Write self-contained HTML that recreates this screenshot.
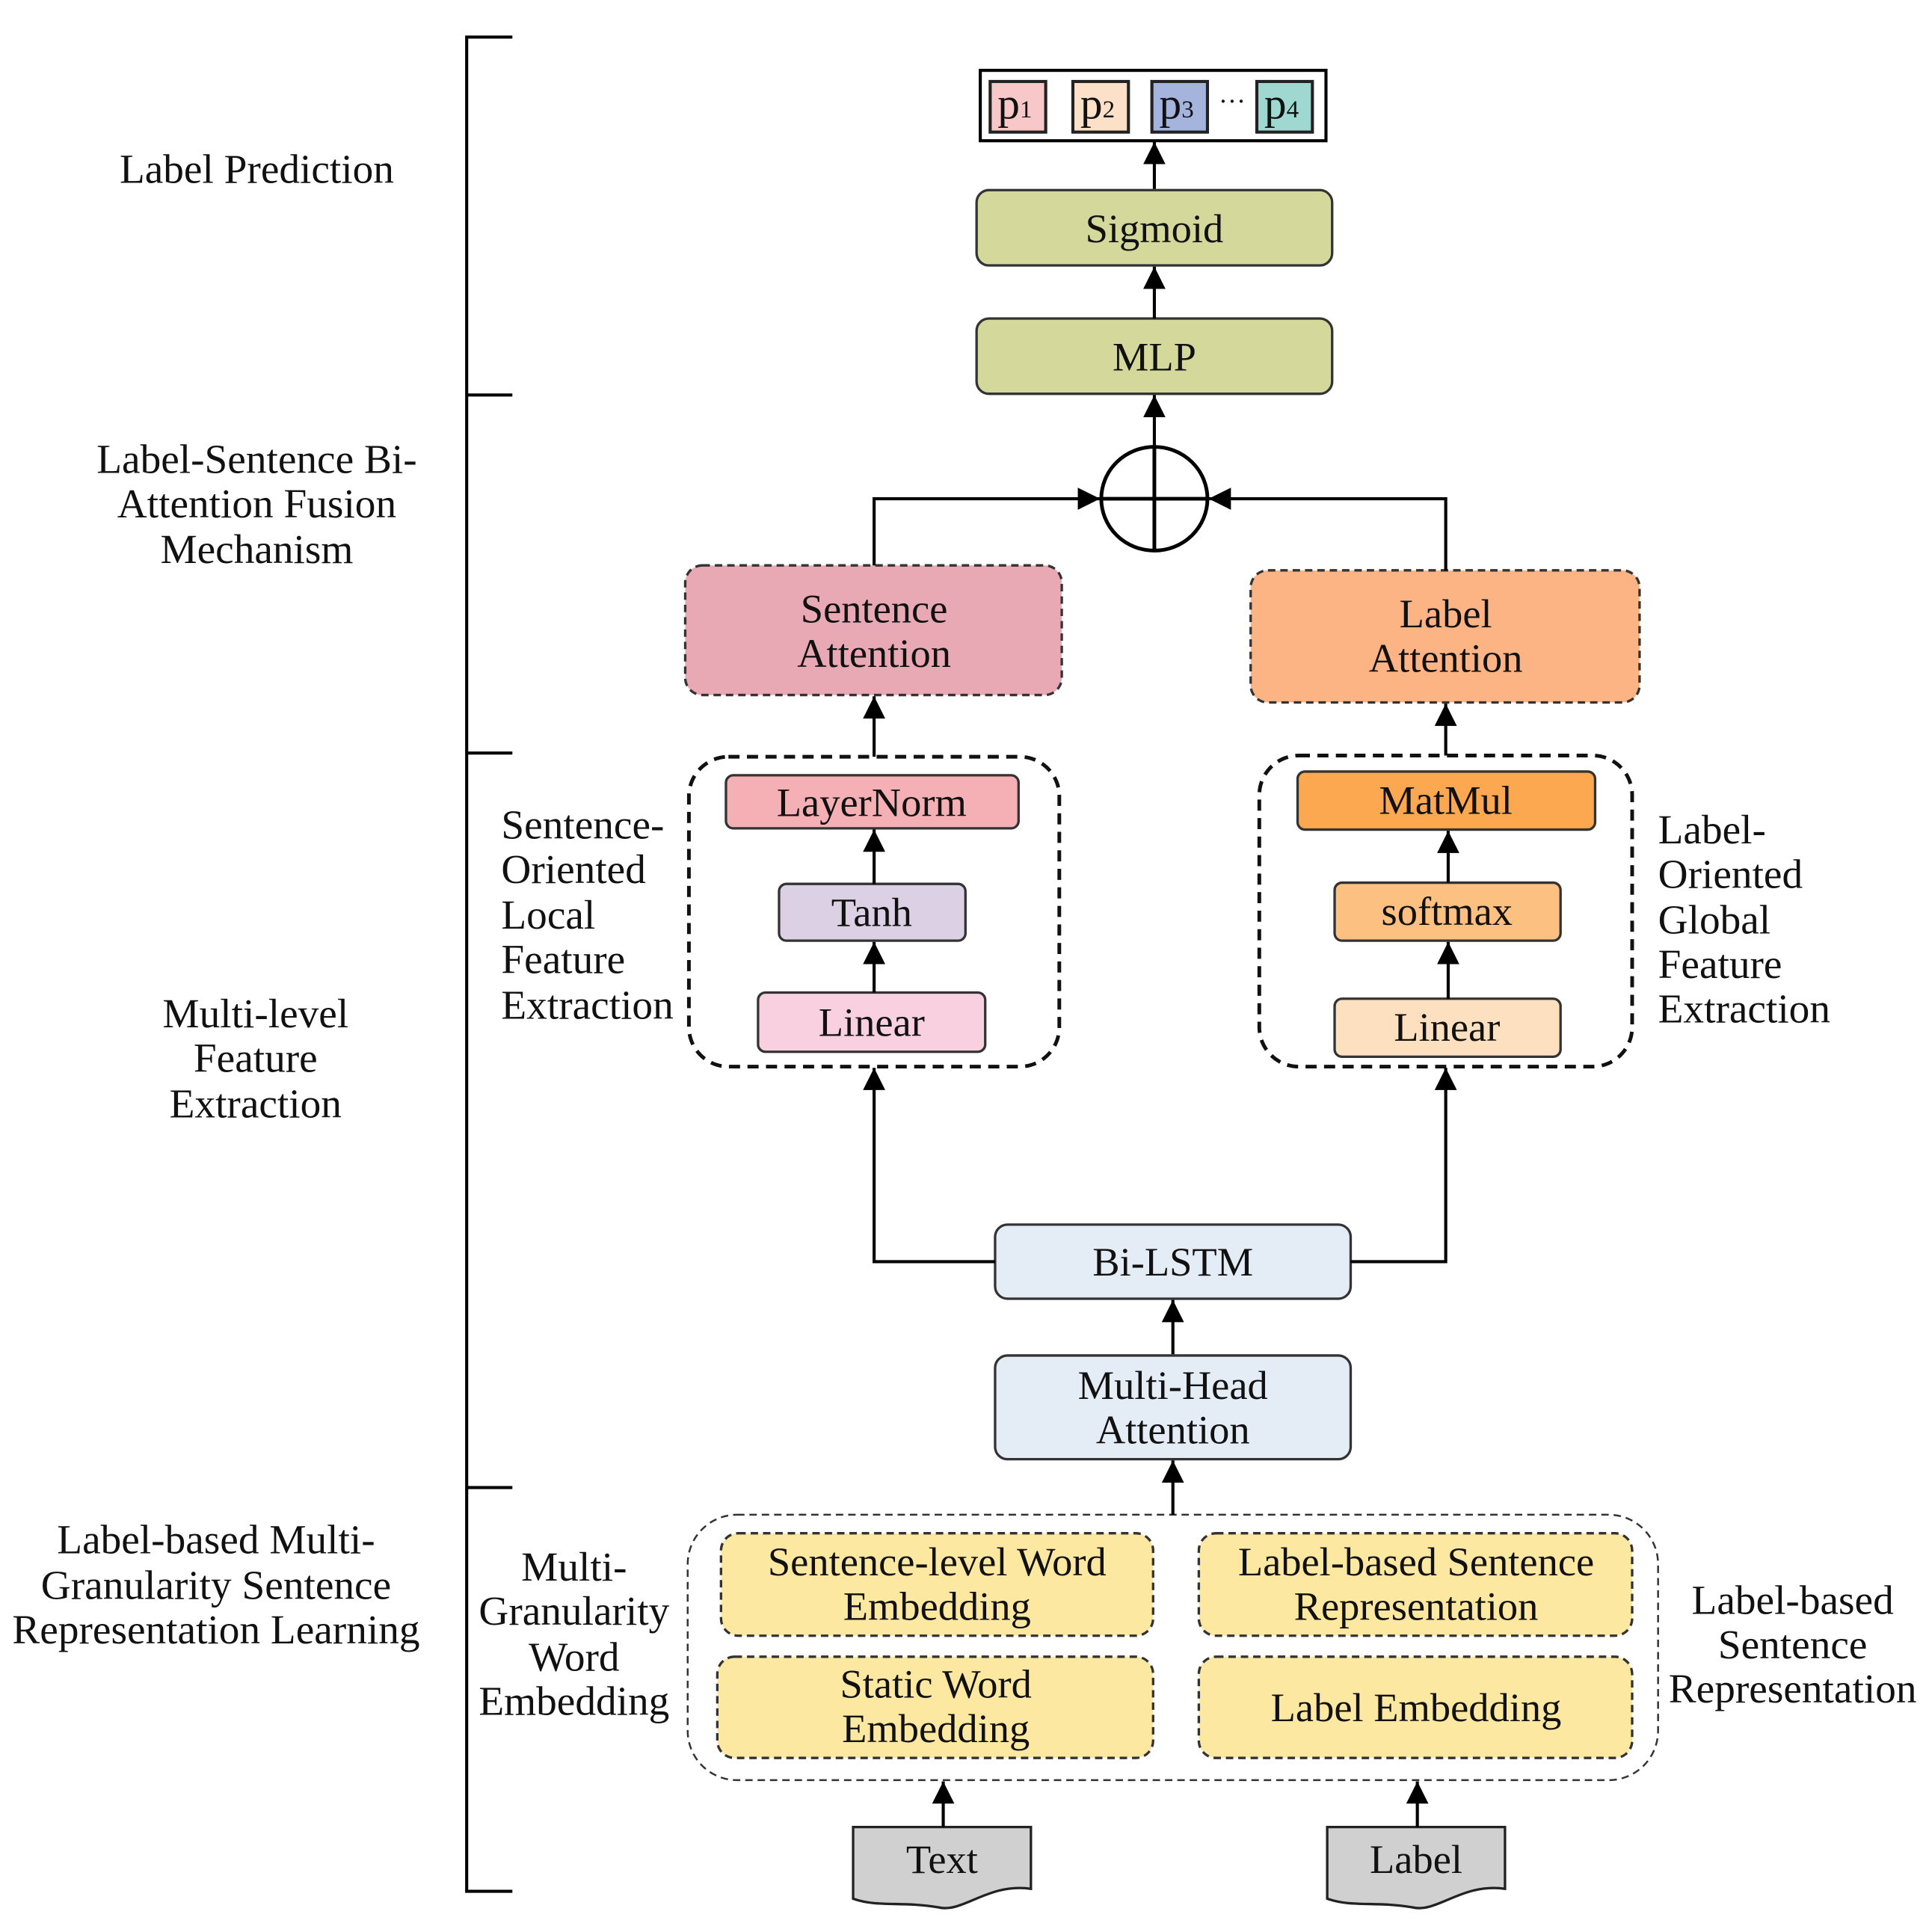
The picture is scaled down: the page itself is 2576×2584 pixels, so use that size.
<!DOCTYPE html>
<html><head><meta charset="utf-8"><style>html,body{margin:0;padding:0;background:#fff}svg{display:block}</style></head><body>
<svg width="2576" height="2584" viewBox="0 0 1560 1565" preserveAspectRatio="none" xmlns="http://www.w3.org/2000/svg" font-family="Liberation Serif, serif" fill="#111">
<defs>
<marker id="b" viewBox="0 0 10 10" markerWidth="18" markerHeight="18" refX="10" refY="5" orient="auto" markerUnits="userSpaceOnUse"><path d="M0,0 L10,5 L0,10 z" fill="#000"/></marker></defs>
<g stroke="#000" stroke-width="2.5" fill="none">
<path d="M415,30 H378 V1532 H415 M378,320 H415 M378,610 H415 M378,1205 H415"/>
</g>
<g font-size="33.5" text-anchor="middle" dominant-baseline="central">
<text x="208" y="137">Label Prediction</text>
<text x="208" y="372">Label-Sentence Bi-</text><text x="208" y="408">Attention Fusion</text><text x="208" y="445">Mechanism</text>
<text x="207" y="821">Multi-level</text><text x="207" y="857">Feature</text><text x="207" y="894">Extraction</text>
<text x="175" y="1247">Label-based Multi-</text><text x="175" y="1284">Granularity Sentence</text><text x="175" y="1320">Representation Learning</text>
<text x="465" y="1269">Multi-</text><text x="465" y="1305">Granularity</text><text x="465" y="1342">Word</text><text x="465" y="1378">Embedding</text>
<text x="1452" y="1296">Label-based</text><text x="1452" y="1332">Sentence</text><text x="1452" y="1368">Representation</text>
</g>
<g font-size="33.5" dominant-baseline="central">
<text x="406" y="668">Sentence-</text><text x="406" y="704">Oriented</text><text x="406" y="741">Local</text><text x="406" y="777">Feature</text><text x="406" y="814">Extraction</text>
<text x="1343" y="672">Label-</text><text x="1343" y="708">Oriented</text><text x="1343" y="745">Global</text><text x="1343" y="781">Feature</text><text x="1343" y="817">Extraction</text>
</g>
<rect x="794" y="57" width="280" height="57" fill="#fff" stroke="#000" stroke-width="2.5"/>
<g stroke="#222" stroke-width="2.5">
<rect x="802" y="66" width="45" height="41" fill="#f8c8c8"/>
<rect x="869" y="66" width="45" height="41" fill="#fde0c8"/>
<rect x="933" y="66" width="45" height="41" fill="#a4b4dc"/>
<rect x="1018" y="66" width="45" height="41" fill="#9ed8d0"/>
</g>
<g font-size="36" dominant-baseline="central" text-anchor="middle">
<text x="822" y="84">p<tspan font-size="20" dy="5">1</tspan></text>
<text x="889" y="84">p<tspan font-size="20" dy="5">2</tspan></text>
<text x="953" y="84">p<tspan font-size="20" dy="5">3</tspan></text>
<text x="998" y="82" font-size="22">···</text>
<text x="1038" y="84">p<tspan font-size="20" dy="5">4</tspan></text>
</g>
<g stroke="#333" stroke-width="2">
<rect x="791" y="154" width="288" height="61" rx="10" fill="#d4d89a"/>
<rect x="791" y="258" width="288" height="61" rx="10" fill="#d4d89a"/>
<rect x="588" y="628" width="237" height="43" rx="6" fill="#f4b0b4"/>
<rect x="631" y="716" width="151" height="46" rx="6" fill="#dcd0e4"/>
<rect x="614" y="804" width="184" height="48" rx="6" fill="#f8d0e0"/>
<rect x="1051" y="625" width="241" height="47" rx="6" fill="#fca850"/>
<rect x="1081" y="715" width="183" height="47" rx="6" fill="#fcc080"/>
<rect x="1081" y="809" width="183" height="47" rx="6" fill="#fde0c0"/>
<rect x="806" y="992" width="288" height="60" rx="10" fill="#e4ecf6"/>
<rect x="806" y="1098" width="288" height="84" rx="10" fill="#e4ecf6"/>
</g>
<g stroke="#333" stroke-width="2" stroke-dasharray="6,4">
<rect x="555" y="458" width="305" height="105" rx="14" fill="#e8a8b4"/>
<rect x="1013" y="462" width="315" height="107" rx="14" fill="#fcb484"/>
<rect x="584" y="1242" width="350" height="83" rx="14" fill="#fce8a0"/>
<rect x="971" y="1242" width="351" height="83" rx="14" fill="#fce8a0"/>
<rect x="581" y="1342" width="353" height="82" rx="14" fill="#fce8a0"/>
<rect x="971" y="1342" width="351" height="82" rx="14" fill="#fce8a0"/>
</g>
<rect x="557" y="1227" width="786" height="215" rx="40" fill="none" stroke="#333" stroke-width="1.5" stroke-dasharray="6,4"/>
<g fill="none" stroke="#111" stroke-width="3" stroke-dasharray="9,6">
<rect x="558" y="613" width="300" height="251" rx="32"/>
<rect x="1020" y="612" width="302" height="252" rx="32"/>
</g>
<g stroke="#222" stroke-width="2" fill="#d0d0d0">
<path d="M691,1480 H835 V1530 C800,1525 780,1550 760,1545 C730,1540 710,1545 691,1538 Z"/>
<path d="M1075,1480 H1219 V1530 C1184,1525 1164,1550 1144,1545 C1114,1540 1094,1545 1075,1538 Z"/>
</g>
<g font-size="33" text-anchor="middle" dominant-baseline="central">
<text x="935" y="185">Sigmoid</text>
<text x="935" y="289">MLP</text>
<text x="708" y="493">Sentence</text><text x="708" y="529">Attention</text>
<text x="1171" y="497">Label</text><text x="1171" y="533">Attention</text>
<text x="706" y="650">LayerNorm</text>
<text x="706" y="739">Tanh</text>
<text x="706" y="828">Linear</text>
<text x="1171" y="648">MatMul</text>
<text x="1172" y="738">softmax</text>
<text x="1172" y="832">Linear</text>
<text x="950" y="1022">Bi-LSTM</text>
<text x="950" y="1122">Multi-Head</text><text x="950" y="1158">Attention</text>
<text x="759" y="1265">Sentence-level Word</text><text x="759" y="1301">Embedding</text>
<text x="1147" y="1265">Label-based Sentence</text><text x="1147" y="1301">Representation</text>
<text x="758" y="1364">Static Word</text><text x="758" y="1400">Embedding</text>
<text x="1147" y="1383">Label Embedding</text>
<text x="763" y="1506">Text</text>
<text x="1147" y="1506">Label</text>
</g>
<g stroke="#000" stroke-width="3" fill="none">
<ellipse cx="935" cy="404" rx="43" ry="42"/>
<path d="M892,404 H978 M935,362 V446"/>
</g>
<g stroke="#000" stroke-width="2.5" fill="none" marker-end="url(#b)">
<path d="M935,153 V115"/>
<path d="M935,258 V216"/>
<path d="M935,362 V320"/>
<path d="M708,458 V404 H891"/>
<path d="M1171,462 V404 H979"/>
<path d="M708,613 V564"/>
<path d="M1171,612 V570"/>
<path d="M708,716 V672"/>
<path d="M708,804 V763"/>
<path d="M1173,715 V673"/>
<path d="M1173,809 V763"/>
<path d="M806,1022 H708 V865"/>
<path d="M1094,1022 H1171 V865"/>
<path d="M950,1097 V1053"/>
<path d="M950,1227 V1183"/>
<path d="M764,1480 V1443"/>
<path d="M1148,1480 V1443"/>
</g>
</svg>
</body></html>
